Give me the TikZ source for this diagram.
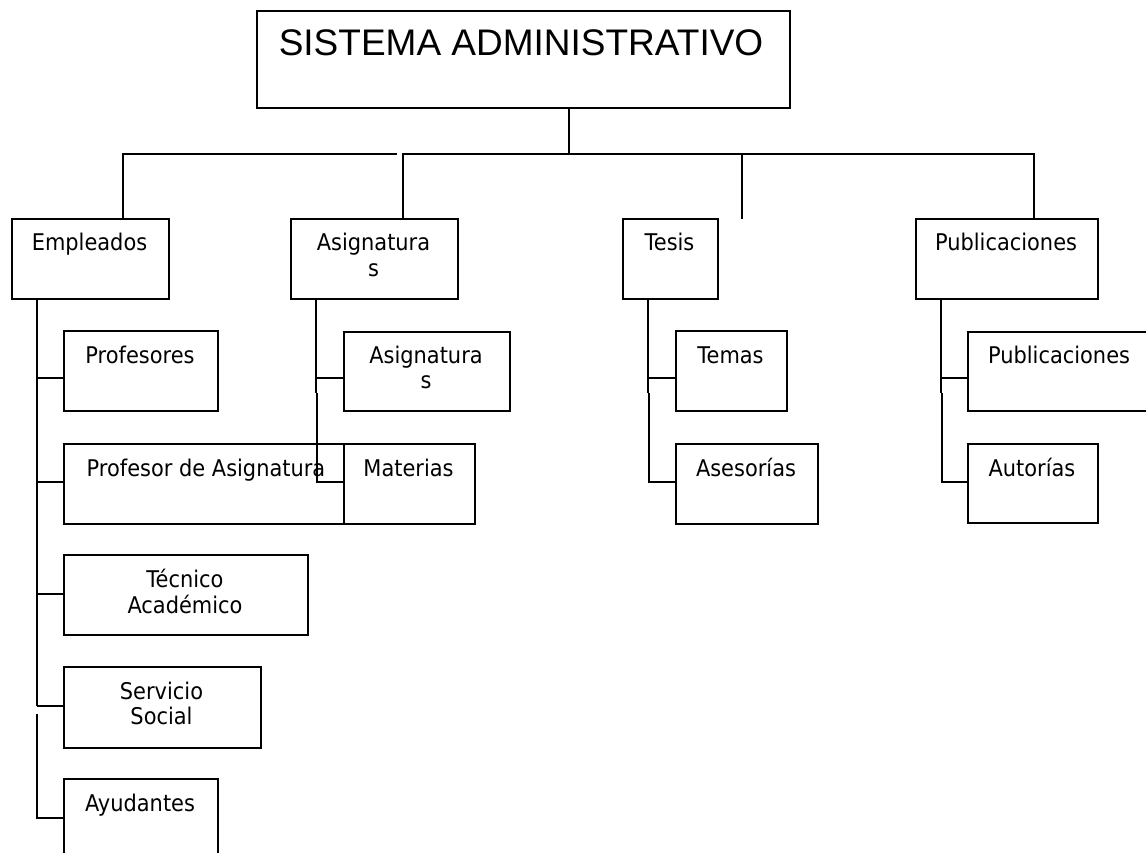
\documentclass[tikz,border=0pt]{standalone}
\usepackage{fontspec}
\setmainfont{DejaVu Sans}[FakeStretch=0.91]
\newfontfamily\titlefont{Liberation Sans}
% two centred lines whose baseline is that of the first line
\newcommand{\twoline}[2]{\begin{tabular}[t]{@{}c@{}}#1\\#2\end{tabular}}
\begin{document}
\begin{tikzpicture}[x=1pt,y=-1pt,
  box/.style={draw, line width=1.9pt, rectangle, inner sep=0pt, anchor=north west},
  lbl/.style={anchor=base, inner sep=0pt, font=\fontsize{23}{25.5}\selectfont},
  link/.style={line width=1.9pt}]
\useasboundingbox (0,0) rectangle (1146,853);
\fill[white] (0,0) rectangle (1146,853);
\clip (0,0) rectangle (1146,853);

% root
\node[box, minimum width=533pt, minimum height=97pt] (top) at (256,10) {};
\node[lbl, font=\titlefont\fontsize{37}{44}\selectfont] (toptxt) at (521,56) {SISTEMA ADMINISTRATIVO};

% first level
\node[box, minimum width=157pt, minimum height=80pt] (emp) at (11,218) {};
\node[lbl] (emptxt) at (89.5,251) {Empleados};
\node[box, minimum width=167pt, minimum height=80pt] (asig) at (290,218) {};
\node[lbl] (asigtxt) at (373.5,251) {\twoline{Asignatura}{s}};
\node[box, minimum width=95pt, minimum height=80pt] (tesis) at (622,218) {};
\node[lbl] (tesistxt) at (669.5,251) {Tesis};
\node[box, minimum width=182pt, minimum height=80pt] (pub) at (915,218) {};
\node[lbl] (pubtxt) at (1006,251) {Publicaciones};

% Empleados
\node[box, minimum width=154pt, minimum height=80pt] (prof) at (63,330) {};
\node[lbl] (proftxt) at (140,363) {Profesores};
\node[box, minimum width=280pt, minimum height=80pt] (profasig) at (63,443) {};
\node[lbl] (profasigtxt) at (206,476) {Profesor de Asignatura};
\node[box, minimum width=244pt, minimum height=80pt] (tec) at (63,554) {};
\node[lbl] (tectxt) at (185,587) {\twoline{Técnico}{Académico}};
\node[box, minimum width=197pt, minimum height=81pt] (serv) at (63,666) {};
\node[lbl] (servtxt) at (161.5,699) {\twoline{Servicio}{Social}};
\node[box, minimum width=154pt, minimum height=100pt] (ayud) at (63,778) {};
\node[lbl] (ayudtxt) at (140,811) {Ayudantes};

% Asignaturas
\node[box, minimum width=166pt, minimum height=79pt] (asigsub) at (343,331) {};
\node[lbl] (asigsubtxt) at (426,363) {\twoline{Asignatura}{s}};
\node[box, minimum width=131pt, minimum height=80pt] (mat) at (343,443) {};
\node[lbl] (mattxt) at (408.5,476) {Materias};

% Tesis
\node[box, minimum width=111pt, minimum height=80pt] (temas) at (675,330) {};
\node[lbl] (temastxt) at (730.5,363) {Temas};
\node[box, minimum width=142pt, minimum height=80pt] (ases) at (675,443) {};
\node[lbl] (asestxt) at (746,476) {Asesorías};

% Publicaciones
\node[box, minimum width=184pt, minimum height=79pt] (pubsub) at (967,331) {};
\node[lbl] (pubsubtxt) at (1059,363) {Publicaciones};
\node[box, minimum width=130pt, minimum height=79pt] (aut) at (967,443) {};
\node[lbl] (auttxt) at (1032,476) {Autorías};

% bus under the root
\coordinate (j0) at (569,154);
\coordinate (jl) at (123,154);
\coordinate (jm) at (397,154);
\coordinate (ja) at (403,154);
\coordinate (jr) at (1034,154);
\coordinate (jd) at (742,154);
\coordinate (dangle) at (742,219);
\draw[link] (top.south -| j0) -- (j0);
\draw[link] (jm) -- (jl) -- (jl |- emp.north);
\draw[link] (ja |- asig.north) -- (ja) -- (jr) -- (jr |- pub.north);
\draw[link] (jd) -- (dangle);

% Empleados spine
\coordinate (es1) at (37,378);
\coordinate (es2) at (37,482);
\coordinate (es3) at (37,594);
\coordinate (es4) at (37,706);
\coordinate (es5) at (37,714);
\coordinate (es6) at (37,818);
\draw[link] (es1 |- emp.south) -- (es4);
\draw[link] (es1) -- (es1 -| prof.west);
\draw[link] (es2) -- (es2 -| profasig.west);
\draw[link] (es3) -- (es3 -| tec.west);
\draw[link] (es4) -- (es4 -| serv.west);
\draw[link] (es5) -- (es6) -- (es6 -| ayud.west);

% Asignaturas spine
\coordinate (as1) at (316,378);
\coordinate (as2) at (316,393);
\coordinate (as3) at (317,393);
\coordinate (as4) at (317,482);
\draw[link] (as1 |- asig.south) -- (as2);
\draw[link] (as1) -- (as1 -| asigsub.west);
\draw[link] (as3) -- (as4) -- (as4 -| mat.west);

% Tesis spine
\coordinate (ts1) at (648,378);
\coordinate (ts2) at (648,393);
\coordinate (ts3) at (649,393);
\coordinate (ts4) at (649,482);
\draw[link] (ts1 |- tesis.south) -- (ts2);
\draw[link] (ts1) -- (ts1 -| temas.west);
\draw[link] (ts3) -- (ts4) -- (ts4 -| ases.west);

% Publicaciones spine
\coordinate (ps1) at (941,378);
\coordinate (ps2) at (941,393);
\coordinate (ps3) at (942,393);
\coordinate (ps4) at (942,482);
\draw[link] (ps1 |- pub.south) -- (ps2);
\draw[link] (ps1) -- (ps1 -| pubsub.west);
\draw[link] (ps3) -- (ps4) -- (ps4 -| aut.west);
\end{tikzpicture}
\end{document}
